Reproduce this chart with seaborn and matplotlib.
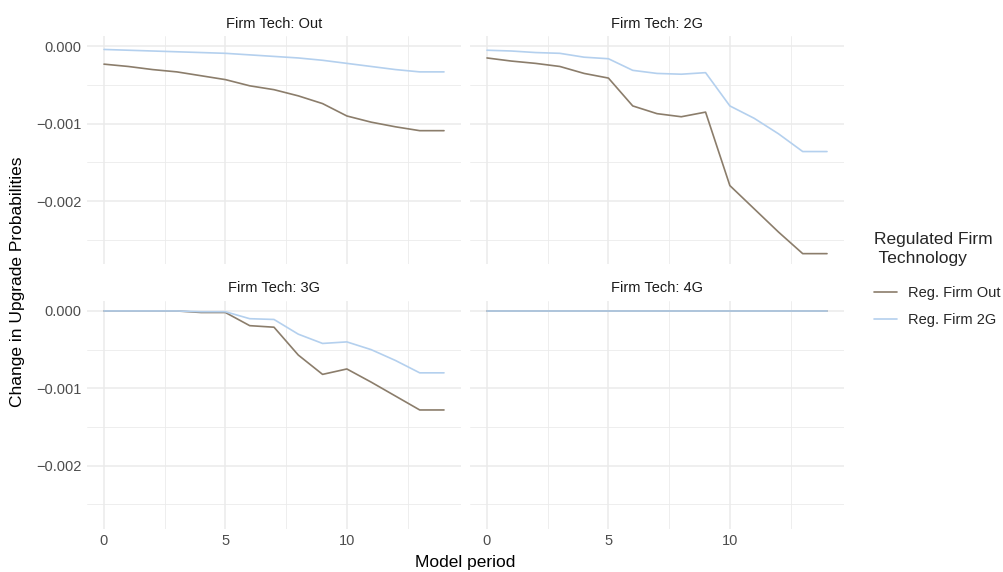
import numpy as np
import pandas as pd
import matplotlib
matplotlib.use("Agg")
import matplotlib.pyplot as plt
import seaborn as sns
from matplotlib.lines import Line2D

# ---- data ----
periods = list(range(15))
panels = ["Firm Tech: Out", "Firm Tech: 2G", "Firm Tech: 3G", "Firm Tech: 4G"]
series = ["Reg. Firm Out", "Reg. Firm 2G"]

out_regout = [-0.00023, -0.00026, -0.00030, -0.00033, -0.00038, -0.00043, -0.00051, -0.00056,
              -0.00064, -0.00074, -0.00090, -0.00098, -0.00104, -0.00109, -0.00109]
out_reg2g = [-0.00004, -0.00005, -0.00006, -0.00007, -0.00008, -0.00009, -0.00011, -0.00013,
             -0.00015, -0.00018, -0.00022, -0.00026, -0.00030, -0.00033, -0.00033]
g2_regout = [-0.00015, -0.00019, -0.00022, -0.00026, -0.00035, -0.00041, -0.00077, -0.00087,
             -0.00091, -0.00085, -0.00180, -0.00210, -0.00240, -0.00268, -0.00268]
g2_reg2g = [-0.00005, -0.00006, -0.00008, -0.00009, -0.00014, -0.00016, -0.00031, -0.00035,
            -0.00036, -0.00034, -0.00077, -0.00093, -0.00113, -0.00136, -0.00136]
g3_regout = [0.0, 0.0, 0.0, 0.0, -0.00002, -0.00002, -0.00019, -0.00021,
             -0.00057, -0.00082, -0.00075, -0.00092, -0.00110, -0.00128, -0.00128]
g3_reg2g = [0.0, 0.0, 0.0, 0.0, -0.00001, -0.00001, -0.00010, -0.00011,
            -0.00030, -0.00042, -0.00040, -0.00050, -0.00064, -0.00080, -0.00080]
g4_regout = [0.0] * 15
g4_reg2g = [0.0] * 15

x_ticks = [0, 5, 10]
x_tick_labels = ["0", "5", "10"]
y_ticks = [0.0, -0.001, -0.002]
y_tick_labels = ["0.000", "\u22120.001", "\u22120.002"]

values = {
    "Firm Tech: Out": (out_regout, out_reg2g),
    "Firm Tech: 2G": (g2_regout, g2_reg2g),
    "Firm Tech: 3G": (g3_regout, g3_reg2g),
    "Firm Tech: 4G": (g4_regout, g4_reg2g),
}
rows = []
for p in panels:
    for s, vals in zip(series, values[p]):
        for t, v in zip(periods, vals):
            rows.append({"panel": p, "reg": s, "period": t, "change": v})
df = pd.DataFrame(rows)

colors = {"Reg. Firm Out": "#8B7D6B", "Reg. Firm 2G": "#B4D0EE"}

sns.set_theme(style="whitegrid")
plt.rcParams["font.family"] = ["Liberation Sans", "DejaVu Sans"]

fig = plt.figure(figsize=(10.04, 5.72), dpi=100)
W, H = 1004.0, 572.0
lefts = [87, 470]
tops = [36, 300.6]
pw, ph = 374, 228

ymin_d, ymax_d = df["change"].min(), df["change"].max()
pad = 0.05 * (ymax_d - ymin_d)
ylim = (ymin_d - pad, ymax_d + pad)
xlim = (min(periods) - 0.7, max(periods) + 0.7)

for i, p in enumerate(panels):
    r, c = divmod(i, 2)
    ax = fig.add_axes([lefts[c] / W, 1 - (tops[r] + ph) / H, pw / W, ph / H])
    sub = df[df["panel"] == p]
    sns.lineplot(data=sub, x="period", y="change", hue="reg", hue_order=series,
                 palette=colors, ax=ax, legend=False, linewidth=1.2)
    ax.set_xlim(*xlim)
    ax.set_ylim(*ylim)
    ax.set_facecolor("white")
    for sp in ax.spines.values():
        sp.set_visible(False)
    ax.set_xticks(x_ticks)
    ax.set_xticks([2.5, 7.5, 12.5], minor=True)
    ax.set_yticks(y_ticks)
    ax.set_yticks([-0.0005, -0.0015, -0.0025], minor=True)
    ax.grid(which="major", color="#EBEBEB", linewidth=1.1)
    ax.grid(which="minor", color="#EBEBEB", linewidth=0.6)
    ax.tick_params(which="both", length=0, pad=4, labelsize=10.5, labelcolor="#4D4D4D")
    if r == 1:
        ax.set_xticklabels(x_tick_labels)
    else:
        ax.set_xticklabels([])
    if c == 0:
        ax.set_yticklabels(y_tick_labels)
    else:
        ax.set_yticklabels([])
    ax.set_xlabel("")
    ax.set_ylabel("")
    ax.set_title(p, fontsize=10.5, color="#1A1A1A", pad=6)
    ax.set_axisbelow(True)

fig.text((87 + 844) / 2 / W, 1 - 562 / H, "Model period", ha="center", va="center",
         fontsize=12.5, color="black")
fig.text(18 / W, 1 - 282 / H, "Change in Upgrade Probabilities", ha="center", va="center",
         rotation=90, fontsize=12.5, color="black")

handles = [Line2D([0], [0], color=colors[s], linewidth=1.2) for s in series]
leg = fig.legend(handles, series, title="Regulated Firm\n Technology",
                 loc="upper left", bbox_to_anchor=(874 / W, 1 - 232 / H),
                 frameon=False, fontsize=10.5, title_fontsize=12.5,
                 handlelength=1.6, handletextpad=0.75, labelspacing=0.9,
                 borderaxespad=0, borderpad=0)
leg.get_title().set_linespacing(1.3)
leg._legend_box.align = "left"
leg._legend_box.sep = 14.5

fig.savefig("out.png", dpi=100)
